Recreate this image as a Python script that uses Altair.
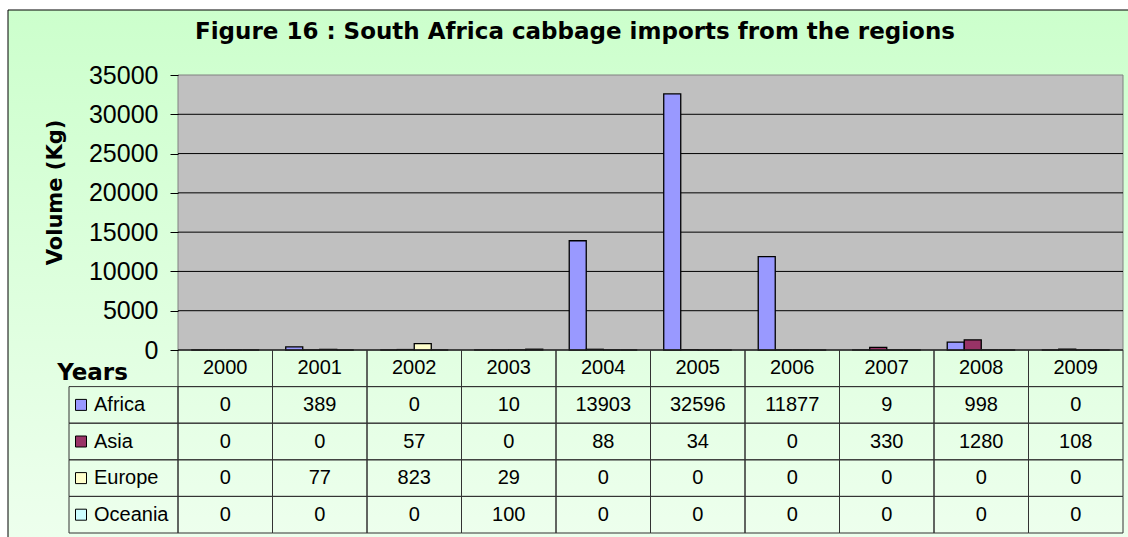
import altair as alt
import pandas as pd

# ---------------- data ----------------
years = ["2000", "2001", "2002", "2003", "2004", "2005", "2006", "2007", "2008", "2009"]
regions = ["Africa", "Asia", "Europe", "Oceania"]
africa = [0, 389, 0, 10, 13903, 32596, 11877, 9, 998, 0]
asia = [0, 0, 57, 0, 88, 34, 0, 330, 1280, 108]
europe = [0, 77, 823, 29, 0, 0, 0, 0, 0, 0]
oceania = [0, 0, 0, 100, 0, 0, 0, 0, 0, 0]
colors = ["#9999FF", "#993366", "#FFFFCC", "#CCFFFF"]
y_ticks = [0, 5000, 10000, 15000, 20000, 25000, 30000, 35000]
grid_vals = [0, 5000, 10000, 15000, 20000, 25000, 30000]
title_text = "Figure 16 : South Africa cabbage imports from the regions"
y_title = "Volume (Kg)"
header_label = "Years"

series = {"Africa": africa, "Asia": asia, "Europe": europe, "Oceania": oceania}
bars_df = pd.DataFrame(
    [{"year": y, "region": r, "value": series[r][i]} for r in regions for i, y in enumerate(years)]
)
rows = ["hdr"] + regions
table_df = pd.DataFrame(
    [{"year": y, "row": "hdr", "label": y} for y in years]
    + [{"year": y, "row": r, "label": str(series[r][i])} for r in regions for i, y in enumerate(years)]
)
label_df = pd.DataFrame({"row": regions})

# ---------------- layout ----------------
W, H = 945, 275
FONT = "Liberation Sans"
BOLD_FONT = "DejaVu Sans"
one = alt.InlineData(values=[{"a": 1}])

ty_scale = alt.Scale(type="band", domain=rows, range=[275, 458], paddingInner=0, paddingOuter=0)
tx_scale = alt.Scale(domain=years, paddingInner=0, paddingOuter=0)

grad = alt.LinearGradient(
    gradient="linear",
    stops=[alt.GradientStop(color="#CCFFCC", offset=0), alt.GradientStop(color="#EEFFEE", offset=1)],
    x1=0, x2=0, y1=0, y2=1,
)

bg = alt.Chart(one).mark_rect(fill=grad, stroke="black", strokeWidth=1).encode(
    x=alt.value(-170), x2=alt.value(W + 20), y=alt.value(-65), y2=alt.value(H + 200)
)

plot_bg = alt.Chart(one).mark_rect(fill="#C0C0C0", stroke="#808080", strokeWidth=1).encode(
    x=alt.value(0), x2=alt.value(W), y=alt.value(0), y2=alt.value(H)
)

grid = alt.Chart(pd.DataFrame({"v": grid_vals})).mark_rule(color="black", strokeWidth=1).encode(
    y=alt.Y("v:Q", scale=alt.Scale(domain=[0, 35000], nice=False), axis=None)
)

bars = alt.Chart(bars_df).mark_bar(stroke="black", strokeWidth=1.3, opacity=1).encode(
    x=alt.X("year:N", sort=years,
            scale=alt.Scale(domain=years, paddingInner=0.28, paddingOuter=0.14), axis=None),
    xOffset=alt.XOffset("region:N", sort=regions,
                        scale=alt.Scale(domain=regions, paddingInner=0, paddingOuter=0)),
    y=alt.Y("value:Q", scale=alt.Scale(domain=[0, 35000], nice=False),
            axis=alt.Axis(orient="left", values=y_ticks, format="d", labelFont=FONT,
                          labelFontSize=25, labelColor="black", labelPadding=12, tickSize=8,
                          tickColor="black", tickWidth=1, domain=False, grid=False,
                          title=y_title, titleFont=BOLD_FONT, titleFontSize=21,
                          titleFontWeight="bold", titleColor="black", titleX=-123, titleY=117,
                          titleAngle=270, titleAlign="center", titleBaseline="middle",
                          zindex=1)),
    color=alt.Color("region:N", scale=alt.Scale(domain=regions, range=colors), legend=None),
)

cells = alt.Chart(table_df).mark_rect(fill="transparent", stroke="#333333", strokeWidth=1).encode(
    x=alt.X("year:N", scale=tx_scale, axis=None),
    y=alt.Y("row:N", scale=ty_scale, axis=None),
)

label_cells = alt.Chart(label_df).mark_rect(fill="transparent", stroke="#333333", strokeWidth=1).encode(
    x=alt.value(-109), x2=alt.value(0),
    y=alt.Y("row:N", scale=ty_scale, axis=None),
)

cell_text = alt.Chart(table_df).mark_text(font=FONT, fontSize=20, color="black",
                                          align="center", baseline="middle").encode(
    x=alt.X("year:N", scale=tx_scale, axis=None),
    y=alt.Y("row:N", scale=ty_scale, axis=None),
    text="label:N",
)

squares = alt.Chart(label_df).mark_square(size=121, opacity=1, stroke="black", strokeWidth=1).encode(
    x=alt.value(-97),
    y=alt.Y("row:N", scale=ty_scale, axis=None),
    color=alt.Color("row:N", scale=alt.Scale(domain=regions, range=colors), legend=None),
)

row_labels = alt.Chart(label_df).mark_text(font=FONT, fontSize=20, color="black",
                                           align="left", baseline="middle").encode(
    x=alt.value(-84),
    y=alt.Y("row:N", scale=ty_scale, axis=None),
    text="row:N",
)

years_lbl = alt.Chart(alt.InlineData(values=[{"row": "hdr", "t": header_label}])).mark_text(
    font=BOLD_FONT, fontSize=23, fontWeight="bold", color="black", align="center",
    baseline="middle", dy=5).encode(
    x=alt.value(-85.5),
    y=alt.Y("row:N", scale=ty_scale, axis=None),
    text="t:N",
)

title = alt.Chart(alt.InlineData(values=[{"t": title_text}])).mark_text(
    font=BOLD_FONT, fontSize=23, fontWeight="bold", color="black", align="center",
    baseline="middle").encode(
    x=alt.value(397), y=alt.value(-43), text="t:N"
)

chart = alt.layer(
    bg, plot_bg, grid, bars, cells, label_cells, cell_text, squares, row_labels, years_lbl, title
).resolve_scale(
    x="independent", y="independent", color="independent"
).properties(
    width=W, height=H,
    autosize=alt.AutoSizeParams(type="none"),
    padding={"left": 178, "top": 75, "right": 5, "bottom": 187},
    background="white",
).configure_view(strokeWidth=0)

chart.save("out.html", embed_options={"renderer": "svg", "actions": False})
